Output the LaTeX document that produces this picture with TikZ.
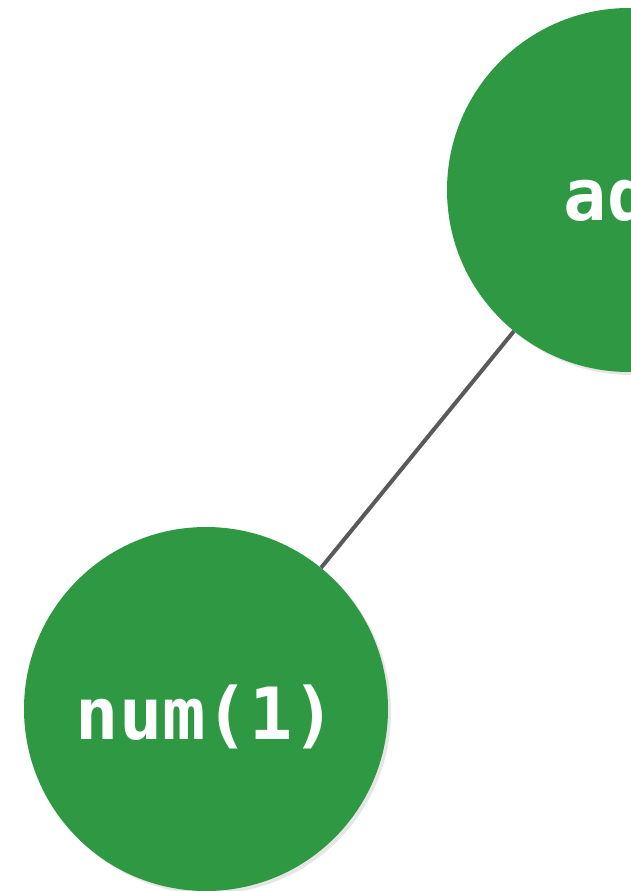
\documentclass[tikz,border=0pt]{standalone}
\usepackage{fontspec}
\newfontfamily\codefont{DejaVu Sans Mono}
\usetikzlibrary{shadows}
\definecolor{nodegreen}{RGB}{46,152,66}
\definecolor{edgegray}{RGB}{90,90,90}
\tikzstyle{treenode} = [circle, minimum size=364pt, inner sep=0pt, fill=nodegreen, text=white, font=\codefont\bfseries\fontsize{72}{72}\selectfont, text height=65pt, text depth=5pt, drop shadow={opacity=0.2, shadow xshift=3pt, shadow yshift=-3pt}]
\tikzstyle{edge} = [line width=4pt, draw=edgegray]

\begin{document}
\begin{tikzpicture}[x=1pt, y=-1pt]
\useasboundingbox (0,0) rectangle (631,891);

\node (add) [treenode] at (629,190) {add};
\node (num) [treenode] at (206,709) {num(1)};

\draw [edge] (add) -- (num);

\end{tikzpicture}
\end{document}
